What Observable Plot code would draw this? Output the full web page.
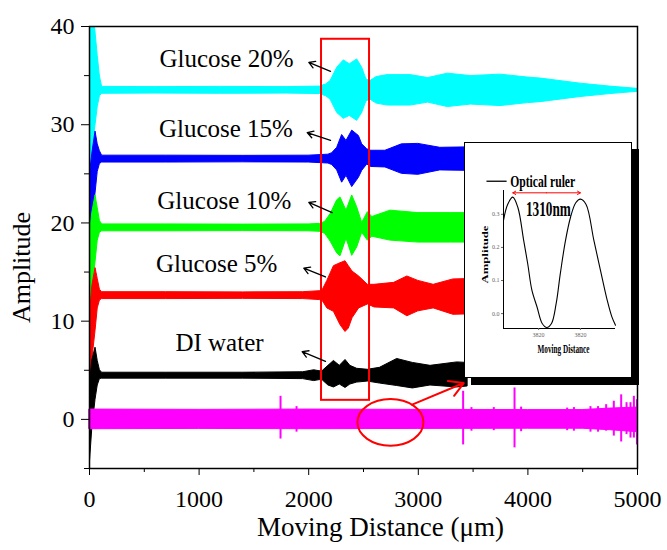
<!DOCTYPE html>
<html>
<head>
<meta charset="utf-8">
<script src="https://cdn.jsdelivr.net/npm/d3@7"></script>
<script src="https://cdn.jsdelivr.net/npm/@observablehq/plot@0.6"></script>
<style>
  html, body { margin: 0; padding: 0; background: #fff; }
  #wrap { position: relative; width: 667px; height: 550px; }
  #inset { position: absolute; left: 464px; top: 142px; width: 166px; height: 234px;
           border: 1px solid #000; box-shadow: 7px 7px 0 #000; background: #fff; }
  svg { display: block; }
  svg text { font-family: 'Liberation Serif', 'Times New Roman', serif !important; font-variant: normal !important; }
</style>
</head>
<body>
<div id="wrap"><div id="main"></div><div id="inset"></div></div>
<script>
// ---------- DATA ----------
// Series baselines (vertical offsets) and colours
const seriesNames = ["Glucose 20%", "Glucose 15%", "Glucose 10%", "Glucose 5%", "DI water"];
const seriesOffsets = [33.5, 26.5, 19.5, 12.6, 4.45];
const seriesColors = ["#00FFFF", "#0000FF", "#00FF00", "#FF0000", "#000000"];

// Envelopes of the dense oscillations: [distance µm, lower deviation, upper deviation]
const cyanEnv = [[0,-9,7.5],[25,-6.5,7.5],[50,-4,6.5],[75,-1.7,3.5],[95,-0.6,1.4],[115,-0.35,0.35],
  [600,-0.33,0.33],[1200,-0.35,0.35],[1800,-0.33,0.33],[2100,-0.38,0.38],
  [2160,-0.6,0.6],[2200,-0.95,0.95],[2260,-2.3,2.3],[2320,-2.9,3.05],[2375,-2.6,2.65],[2442,-3.1,3.15],
  [2488,-2.3,2.3],[2527,-1.1,1.1],[2564,-0.95,0.95],[2620,-1.35,1.35],[2720,-1.55,1.55],[2930,-1.55,1.55],
  [3090,-1.25,1.25],[3270,-1.7,1.7],[3480,-1.45,1.45],[3750,-1.6,1.6],[4000,-1.3,1.3],[4115,-1.2,1.2],
  [4480,-0.68,0.68],[4750,-0.38,0.38],[5000,-0.15,0.15]];
const blueEnv = [[0,-8,-2],[25,-6,0.5],[55,-3.5,2.8],[75,-1.3,1.5],[95,-0.5,0.8],[115,-0.35,0.35],
  [700,-0.35,0.35],[1400,-0.33,0.33],[2000,-0.35,0.35],[2180,-0.45,0.45],
  [2214,-0.6,0.6],[2260,-1.15,1.15],[2305,-2.4,2.45],[2345,-1.7,1.85],[2397,-2.85,2.9],[2458,-1.9,2.35],
  [2488,-1.2,1.5],[2534,-0.55,1.0],[2570,-0.8,0.85],[2700,-0.85,0.85],[2850,-1.5,1.5],[3000,-1.6,1.55],
  [3200,-1.15,1.15],[3500,-1.2,1.2]];
const greenEnv = [[0,-9.5,-1],[25,-6.5,1.5],[55,-3.5,3.3],[75,-1.3,2],[95,-0.5,0.7],[115,-0.35,0.35],
  [700,-0.35,0.35],[1400,-0.33,0.33],[2000,-0.35,0.35],[2100,-0.4,0.4],
  [2150,-0.6,0.6],[2200,-1.4,1.4],[2260,-2.6,2.8],[2290,-2.9,3.1],[2345,-1.1,1.75],[2397,-2.85,3.3],
  [2442,-2.0,2.1],[2488,-0.5,0.5],[2540,-1.3,1.6],[2580,-0.9,1.1],[2746,-1.3,1.75],[3000,-1.5,1.5],
  [3300,-1.5,1.5],[3500,-1.5,1.5]];
const redEnv = [[0,-9.4,-2.6],[25,-6.6,0.9],[55,-3.6,2.8],[75,-1.3,1.7],[95,-0.5,0.6],[115,-0.35,0.35],
  [700,-0.35,0.35],[1400,-0.33,0.33],[1950,-0.35,0.35],[2100,-0.45,0.45],
  [2125,-0.5,0.5],[2170,-1.3,1.5],[2230,-1.65,3.0],[2290,-3.0,3.3],[2336,-3.7,3.5],[2366,-3.35,3.0],
  [2400,-2.3,2.45],[2460,-1.3,1.95],[2540,-0.9,1.1],[2600,-1.2,1.1],[2780,-1.3,1.3],[2900,-2.1,1.95],
  [3000,-1.6,1.5],[3140,-1.3,1.1],[3320,-1.95,1.65],[3500,-1.9,1.7]];
const blackEnv = [[0,-9.45,-1.25],[25,-5.45,1.55],[55,-2.45,2.85],[75,-1.0,1.5],[95,-0.35,0.55],[115,-0.3,0.3],
  [700,-0.3,0.3],[1400,-0.3,0.3],[1950,-0.35,0.35],[2050,-0.55,0.55],[2100,-0.45,0.45],
  [2130,-0.5,0.5],[2180,-1.0,1.0],[2230,-1.2,1.5],[2284,-0.9,1.0],[2336,-1.25,1.6],[2380,-0.9,1.0],
  [2442,-0.7,0.7],[2540,-0.6,0.6],[2650,-0.8,0.8],[2807,-1.05,1.7],[2950,-1.3,1.3],[3111,-1.0,1.0],
  [3355,-1.2,1.35],[3450,-1.1,1.3]];
const seriesEnvs = [cyanEnv, blueEnv, greenEnv, redEnv, blackEnv];

// Reference (magenta) trace around 0: band and spikes
const magentaColor = "#FF00FF";
const magentaEnv = [[0,-1,1],[1000,-0.97,0.97],[2000,-1,1],[3000,-0.97,0.97],[4000,-0.95,0.95],[4500,-0.95,0.95],[4750,-1.1,1.1],[5000,-1.3,1.2]];
const spikeX   = [1743, 1889, 3409, 3485, 3689, 3878, 3938, 4358, 4420, 4571, 4640, 4714, 4784, 4851, 4900, 4936, 4967, 4995];
const spikeLo  = [-2.0,-1.3,-2.6,-1.2,-1.15,-2.9,-1.25,-1.15,-1.2,-1.3,-1.3,-1.2,-1.7,-2.3,-1.55,-1.9,-1.9,-2.6];
const spikeHi  = [2.35, 1.3, 2.86, 1.2, 1.2, 3.2, 1.25, 1.15, 1.2, 1.3, 1.3, 1.5, 1.85, 2.5, 1.7, 1.7, 2.35, 2.0];

// Annotations
const labelX = [1250, 1245, 1230, 1160, 1186];
const labelY = [36.7, 29.6, 22.2, 15.8, 7.8];
const arrowX1 = [2199, 2199, 2214, 2153, 2153];
const arrowY1 = [35.44, 28.4, 21.05, 14.5, 5.9];
const arrowX2 = [2001, 1986, 2001, 1955, 1940];
const arrowY2 = [36.35, 29.2, 22.1, 15.4, 6.9];
const boxX = [2117, 2555];
const boxY = [1.94, 38.7];
const ellipseCenter = [2746, -0.3];
const zoomArrow = [2944, 1.5, 3415, 3.7];

// Axes
const xTicks = [0, 1000, 2000, 3000, 4000, 5000];
const xMinor = [500, 1500, 2500, 3500, 4500];
const yTicks = [0, 10, 20, 30, 40];
const yMinor = [-5, 5, 15, 25, 35];

// Inset: optical ruler
const rulerX = [0, 0.08, 0.18, 0.28, 0.39, 0.47, 0.55, 0.65, 0.75, 0.84, 0.93, 1.02, 1.10, 1.20, 1.30, 1.40, 1.49, 1.60, 1.75, 1.88, 2.01, 2.10, 2.17];
const rulerY = [0.282, 0.33, 0.352, 0.32, 0.222, 0.15, 0.071, 0.02, -0.03, -0.042, -0.03, 0.03, 0.12, 0.22, 0.292, 0.335, 0.346, 0.33, 0.222, 0.13, 0.04, -0.01, -0.035];
const insetYTicks = [0, 0.1, 0.2, 0.3];
const insetXTicks = [0.68, 1.49];
const insetXTickLabels = ["3820", "3820"];
const rulerPeaks = [0.18, 1.49];
const rulerLabel = "1310nm";

// ---------- BUILD ----------
const areaRows = seriesEnvs.map((env, i) => env.map(([x, lo, hi]) => ({x, y1: seriesOffsets[i] + lo, y2: seriesOffsets[i] + hi})));
const magRows = magentaEnv.map(([x, lo, hi]) => ({x, y1: lo, y2: hi}));
const spikes = spikeX.map((x, i) => ({x, y1: spikeLo[i], y2: spikeHi[i]}));

const ellipseSymbol = {
  draw(ctx) {
    const rx = 33, ry = 23.3, k = 0.5523;
    ctx.moveTo(rx, 0);
    ctx.bezierCurveTo(rx, k * ry, k * rx, ry, 0, ry);
    ctx.bezierCurveTo(-k * rx, ry, -rx, k * ry, -rx, 0);
    ctx.bezierCurveTo(-rx, -k * ry, -k * rx, -ry, 0, -ry);
    ctx.bezierCurveTo(k * rx, -ry, rx, -k * ry, rx, 0);
    ctx.closePath();
  }
};

const serif = "'Liberation Serif', 'Times New Roman', serif";

const areaMarks = areaRows.map((rows, i) =>
  Plot.areaY(rows, {x: "x", y1: "y1", y2: "y2", fill: seriesColors[i], stroke: seriesColors[i], strokeWidth: 1, clip: true})
);

const main = Plot.plot({
  width: 667, height: 550,
  marginLeft: 89, marginRight: 30, marginTop: 26, marginBottom: 82,
  x: {domain: [0, 5000]},
  y: {domain: [-5, 40]},
  style: {fontFamily: serif, color: "#000", background: "#fff"},
  marks: [
    ...areaMarks,
    Plot.areaY(magRows, {x: "x", y1: "y1", y2: "y2", fill: magentaColor, stroke: magentaColor, strokeWidth: 1}),
    Plot.ruleX(spikes, {x: "x", y1: "y1", y2: "y2", stroke: magentaColor, strokeWidth: 2}),
    Plot.rect([{x1: boxX[0], x2: boxX[1], y1: boxY[0], y2: boxY[1]}], {x1: "x1", x2: "x2", y1: "y1", y2: "y2", stroke: "#FF0000", strokeWidth: 2, fill: "none"}),
    Plot.dot([{x: ellipseCenter[0], y: ellipseCenter[1]}], {x: "x", y: "y", symbol: ellipseSymbol, stroke: "#FF0000", strokeWidth: 2, fill: "none"}),
    Plot.arrow([{x1: zoomArrow[0], y1: zoomArrow[1], x2: zoomArrow[2], y2: zoomArrow[3]}], {x1: "x1", y1: "y1", x2: "x2", y2: "y2", stroke: "#FF0000", strokeWidth: 2, headLength: 12}),
    Plot.arrow(seriesNames, {x1: arrowX1, y1: arrowY1, x2: arrowX2, y2: arrowY2, stroke: "#000", strokeWidth: 1.3, headLength: 8}),
    Plot.text(seriesNames, {x: labelX, y: labelY, text: d => d, fontSize: 25, fill: "#000"}),
    Plot.axisX({ticks: xTicks, tickSize: 7, tickPadding: 14, fontSize: 24, fontFamily: serif, label: null, tickFormat: d => String(d)}),
    Plot.axisX({ticks: xMinor, tickSize: 4, tickFormat: () => "", label: null}),
    Plot.axisY({ticks: yTicks, tickSize: 8, tickPadding: 7, fontSize: 24, fontFamily: serif, label: null, tickFormat: d => String(d)}),
    Plot.axisY({ticks: yMinor, tickSize: 5, tickFormat: () => "", label: null}),
    Plot.frame({stroke: "#000", strokeWidth: 1.5}),
    Plot.text(["Moving Distance (μm)"], {frameAnchor: "bottom", textAnchor: "middle", lineAnchor: "middle", dx: 17, dy: 59, fontSize: 27, fill: "#000"}),
    Plot.text(["Amplitude"], {frameAnchor: "left", textAnchor: "middle", lineAnchor: "middle", rotate: -90, dx: -68, dy: 20, fontSize: 26, fill: "#000"})
  ]
});
document.getElementById("main").appendChild(main);

const inset = Plot.plot({
  width: 166, height: 234,
  marginLeft: 38, marginTop: 47, marginBottom: 49, marginRight: 16,
  x: {domain: [0, 2.17]},
  y: {domain: [-0.045, 0.372]},
  style: {fontFamily: serif, color: "#000", background: "#fff", overflow: "visible"},
  marks: [
    Plot.ruleX([0], {stroke: "#000", strokeWidth: 1}),
    Plot.ruleY([-0.045], {stroke: "#000", strokeWidth: 1}),
    Plot.axisY({ticks: insetYTicks, tickSize: 2, tickPadding: 2, fontSize: 6, tickFormat: d3.format(".1f"), label: null, color: "#666"}),
    Plot.axisX({ticks: insetXTicks, tickSize: 2, tickPadding: 2, fontSize: 6, tickFormat: (d, i) => insetXTickLabels[i], label: null, color: "#666"}),
    Plot.line(rulerX, {x: rulerX, y: rulerY, curve: "catmull-rom", stroke: "#000", strokeWidth: 1.1}),
    Plot.ruleY([0.40], {x1: -0.32, x2: 0.07, stroke: "#000", strokeWidth: 1.3}),
    Plot.text(["Optical ruler"], {x: 0.13, y: 0.40, textAnchor: "start", fontSize: 17, fontWeight: "bold", fill: "#000"}),
    Plot.arrow([{x1: (rulerPeaks[0] + rulerPeaks[1]) / 2, x2: rulerPeaks[0]}, {x1: (rulerPeaks[0] + rulerPeaks[1]) / 2, x2: rulerPeaks[1]}],
      {x1: "x1", x2: "x2", y1: 0.365, y2: 0.365, stroke: "#FF0000", strokeWidth: 1, headLength: 5}),
    Plot.text([rulerLabel], {x: 0.87, y: 0.315, fontSize: 21, fontWeight: "bold", fill: "#000"}),
    Plot.text(["Amplitude"], {frameAnchor: "left", textAnchor: "middle", lineAnchor: "middle", rotate: -90, dx: -18, dy: -5, fontSize: 9, fontWeight: "bold", fill: "#000"}),
    Plot.text(["Moving Distance"], {frameAnchor: "bottom", textAnchor: "middle", lineAnchor: "middle", dx: 4, dy: 20, fontSize: 13, fontWeight: "bold", fill: "#000"})
  ]
});
document.getElementById("inset").appendChild(inset);

// Condense the inset texts (the original uses a narrow bold face)
d3.select(inset).selectAll("text").each(function() {
  const t = this.textContent;
  const lengths = {"Optical ruler": 65, "1310nm": 45, "Moving Distance": 52, "Amplitude": 58};
  if (lengths[t]) {
    d3.select(this).attr("textLength", lengths[t]).attr("lengthAdjust", "spacingAndGlyphs");
  }
});
</script>
</body>
</html>
